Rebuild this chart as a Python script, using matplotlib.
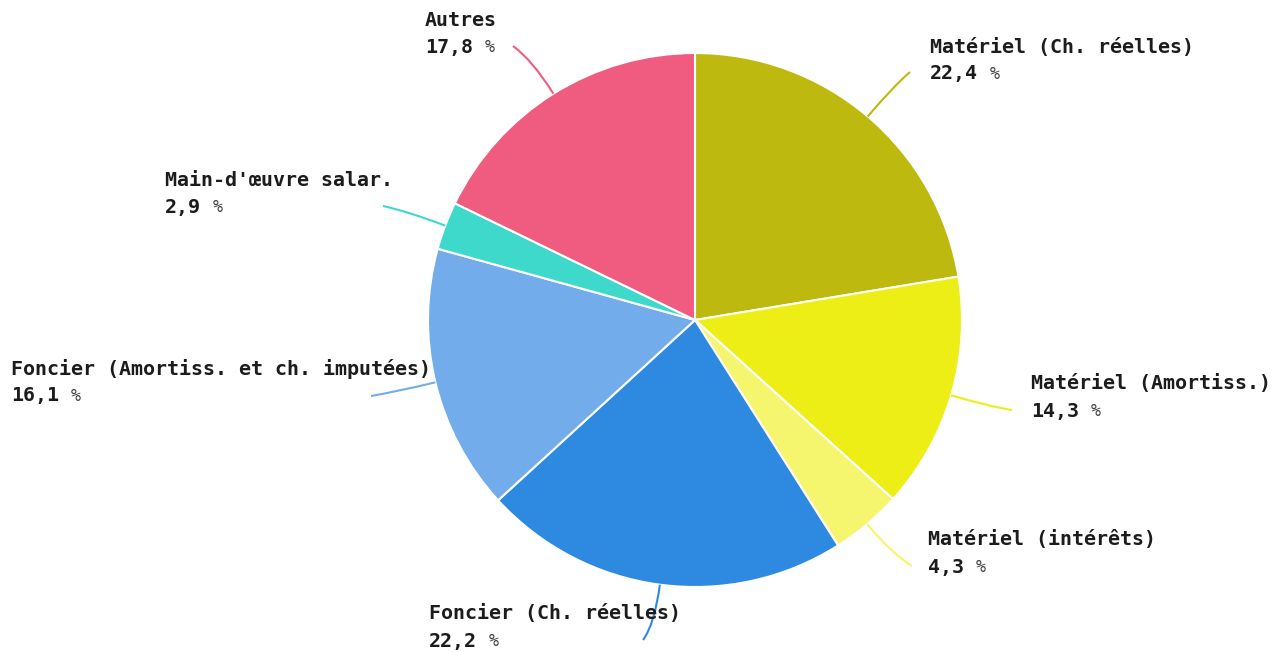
import matplotlib
matplotlib.use("Agg")
import matplotlib.pyplot as plt
from matplotlib.path import Path
from matplotlib.patches import PathPatch
import numpy as np

labels = ["Matériel (Ch. réelles)", "Matériel (Amortiss.)", "Matériel (intérêts)",
          "Foncier (Ch. réelles)", "Foncier (Amortiss. et ch. imputées)",
          "Main-d'œuvre salar.", "Autres"]
values = [22.4, 14.3, 4.3, 22.2, 16.1, 2.9, 17.8]
value_texts = ["22,4", "14,3", "4,3", "22,2", "16,1", "2,9", "17,8"]
colors = ["#BDB90F", "#EEEE17", "#F5F56E", "#2E8AE0", "#72ACEA", "#3FD9CB", "#F05C80"]

# layout (pixel coords, top-down): label left x, first line y, leader end point
label_pos = [(930, 47), (1031, 384), (928, 540), (429, 614), (11, 369), (165, 180), (425, 20)]
leader_end = [(910, 72), (1012, 410), (912, 566), (643, 640), (371, 396), (383, 206), (513, 46)]

W, H = 1281, 652
fig = plt.figure(figsize=(W / 100, H / 100), dpi=100)
ax = fig.add_axes([0, 0, 1, 1])

cx, cy, R = 695, H - 320, 267
wedges, _ = ax.pie(values, colors=colors, startangle=90, counterclock=False,
                   radius=R, center=(cx, cy),
                   wedgeprops=dict(edgecolor="white", linewidth=1.5))
ax.set_xlim(0, W)
ax.set_ylim(0, H)
ax.set_aspect("equal")
ax.axis("off")

font = "DejaVu Sans Mono"
tcol = "#1c1c1c"
for w, lab, vt, col, (lx, ly), (ex, ey) in zip(wedges, labels, value_texts, colors,
                                                 label_pos, leader_end):
    mid = np.deg2rad((w.theta1 + w.theta2) / 2)
    sx, sy = cx + R * np.cos(mid), cy + R * np.sin(mid)
    qx, qy = cx + 1.15 * R * np.cos(mid), cy + 1.15 * R * np.sin(mid)
    path = Path([(sx, sy), (qx, qy), (ex, H - ey)],
                [Path.MOVETO, Path.CURVE3, Path.CURVE3])
    ax.add_patch(PathPatch(path, facecolor="none", edgecolor=col, lw=1.5))
    ax.text(lx, H - ly, lab, family=font, weight="bold", fontsize=14.4,
            color=tcol, ha="left", va="center")
    t = ax.text(lx, H - ly - 27, vt, family=font, weight="bold", fontsize=14.4,
                color=tcol, ha="left", va="center")
    ax.annotate("%", xy=(1, 0.5), xycoords=t, xytext=(12, 0),
                textcoords="offset pixels", family=font, fontsize=12,
                color="#444444", ha="left", va="center")

fig.savefig("out.png", dpi=100)
